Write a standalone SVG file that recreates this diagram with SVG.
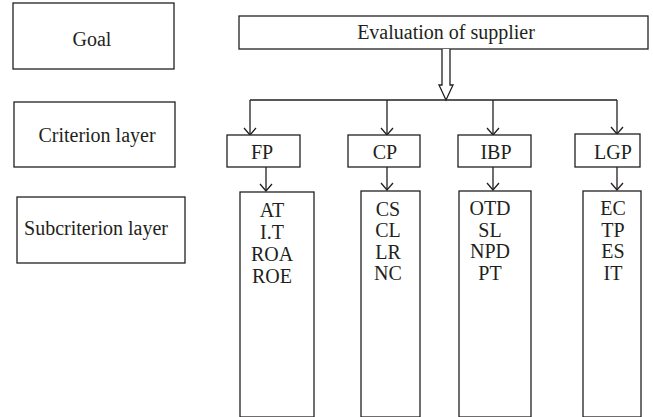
<svg xmlns="http://www.w3.org/2000/svg" width="653" height="417" viewBox="0 0 653 417">
<defs>
<style>
.box{fill:#fff;stroke:#231f20;stroke-width:1.3}
.ln{fill:none;stroke:#231f20;stroke-width:1.3}
.t{font-family:"Liberation Serif","Times New Roman",serif;font-size:20px;fill:#231f20;text-anchor:middle}
</style>
<marker id="v" markerUnits="userSpaceOnUse" orient="auto" refX="0" refY="0" markerWidth="14" markerHeight="16" viewBox="-8 -8 10 16" overflow="visible">
<path d="M-7,-6 L0,0 L-7,6" fill="none" stroke="#231f20" stroke-width="1.3"/>
</marker>
</defs>
<rect width="653" height="417" fill="#fff"/>

<g id="goal-label"><rect class="box" x="13" y="3" width="161" height="66"/><text class="t" x="92" y="46">Goal</text></g>
<g id="criterion-label"><rect class="box" x="14" y="102" width="161" height="65"/><text class="t" x="97" y="142">Criterion layer</text></g>
<g id="subcriterion-label"><rect class="box" x="17" y="197" width="168" height="66"/><text class="t" x="96" y="235">Subcriterion layer</text></g>

<g id="goal"><rect class="box" x="239" y="16" width="409" height="33"/><text class="t" x="446" y="39">Evaluation of supplier</text></g>

<g id="connectors">
<path class="box" d="M442,49 L442,85 L439,85 L446,100 L453,85 L450,85 L450,49"/>
<path class="ln" d="M250,100 L617,100"/>
<path class="ln" d="M250,100 L250,135" marker-end="url(#v)"/>
<path class="ln" d="M387,100 L387,135" marker-end="url(#v)"/>
<path class="ln" d="M493,100 L493,135" marker-end="url(#v)"/>
<path class="ln" d="M617,100 L617,134" marker-end="url(#v)"/>
<path class="ln" d="M266,167 L266,191" marker-end="url(#v)"/>
<path class="ln" d="M387,167 L387,190" marker-end="url(#v)"/>
<path class="ln" d="M493,167 L493,190" marker-end="url(#v)"/>
<path class="ln" d="M617,167 L617,190" marker-end="url(#v)"/>
</g>

<g id="fp"><rect class="box" x="227" y="135" width="73" height="32"/><text class="t" x="262" y="159">FP</text></g>
<g id="cp"><rect class="box" x="348" y="135" width="72" height="32"/><text class="t" x="385" y="159">CP</text></g>
<g id="ibp"><rect class="box" x="458" y="135" width="73" height="32"/><text class="t" x="496" y="159">IBP</text></g>
<g id="lgp"><rect class="box" x="575" y="134" width="65" height="33"/><text class="t" x="613" y="159">LGP</text></g>

<g id="fp-sub"><rect class="box" x="240" y="192" width="74" height="225"/>
<text class="t" x="272" y="217">AT</text><text class="t" x="272" y="239">I.T</text><text class="t" x="272" y="261">ROA</text><text class="t" x="272" y="283">ROE</text></g>
<g id="cp-sub"><rect class="box" x="361" y="191" width="59" height="226"/>
<text class="t" x="388" y="216">CS</text><text class="t" x="388" y="237">CL</text><text class="t" x="388" y="259">LR</text><text class="t" x="388" y="280">NC</text></g>
<g id="ibp-sub"><rect class="box" x="459" y="191" width="72" height="226"/>
<text class="t" x="490" y="215">OTD</text><text class="t" x="490" y="237">SL</text><text class="t" x="490" y="258">NPD</text><text class="t" x="490" y="280">PT</text></g>
<g id="lgp-sub"><rect class="box" x="583" y="191" width="58" height="226"/>
<text class="t" x="613" y="215">EC</text><text class="t" x="613" y="237">TP</text><text class="t" x="613" y="258">ES</text><text class="t" x="613" y="280">IT</text></g>
</svg>
